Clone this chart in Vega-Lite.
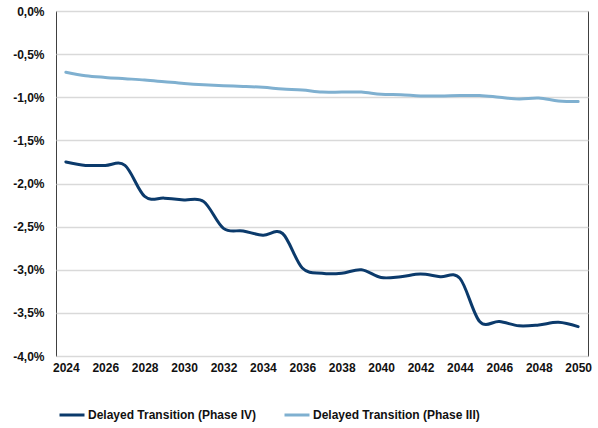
{
  "$schema": "https://vega.github.io/schema/vega-lite/v6.json",
  "width": 532,
  "height": 345,
  "autosize": "none",
  "padding": {"left": 56, "top": 11, "right": 10, "bottom": 72},
  "background": "white",
  "config": {
    "locale": {"number": {"decimal": ",", "thousands": ".", "grouping": [3], "currency": ["", " €"], "minus": "-"}},
    "view": {"stroke": "#404040", "strokeWidth": 1},
    "font": "Liberation Sans",
    "axis": {"labelFont": "Liberation Sans", "labelFontWeight": "bold", "labelFontSize": 12, "labelColor": "#111111", "ticks": false, "domain": false, "title": null},
    "legend": {"labelFont": "Liberation Sans", "labelFontWeight": "bold", "labelFontSize": 12, "labelColor": "#111111", "labelLimit": 0}
  },
  "data": {
    "values": [
      {"year": 2024, "series": "Delayed Transition (Phase IV)", "value": -0.0175},
      {"year": 2025, "series": "Delayed Transition (Phase IV)", "value": -0.0179},
      {"year": 2026, "series": "Delayed Transition (Phase IV)", "value": -0.0179},
      {"year": 2027, "series": "Delayed Transition (Phase IV)", "value": -0.0179},
      {"year": 2028, "series": "Delayed Transition (Phase IV)", "value": -0.0215},
      {"year": 2029, "series": "Delayed Transition (Phase IV)", "value": -0.0217},
      {"year": 2030, "series": "Delayed Transition (Phase IV)", "value": -0.0219},
      {"year": 2031, "series": "Delayed Transition (Phase IV)", "value": -0.0221},
      {"year": 2032, "series": "Delayed Transition (Phase IV)", "value": -0.0252},
      {"year": 2033, "series": "Delayed Transition (Phase IV)", "value": -0.0255},
      {"year": 2034, "series": "Delayed Transition (Phase IV)", "value": -0.0260},
      {"year": 2035, "series": "Delayed Transition (Phase IV)", "value": -0.0258},
      {"year": 2036, "series": "Delayed Transition (Phase IV)", "value": -0.0298},
      {"year": 2037, "series": "Delayed Transition (Phase IV)", "value": -0.0304},
      {"year": 2038, "series": "Delayed Transition (Phase IV)", "value": -0.0304},
      {"year": 2039, "series": "Delayed Transition (Phase IV)", "value": -0.0300},
      {"year": 2040, "series": "Delayed Transition (Phase IV)", "value": -0.0309},
      {"year": 2041, "series": "Delayed Transition (Phase IV)", "value": -0.0308},
      {"year": 2042, "series": "Delayed Transition (Phase IV)", "value": -0.0305},
      {"year": 2043, "series": "Delayed Transition (Phase IV)", "value": -0.0308},
      {"year": 2044, "series": "Delayed Transition (Phase IV)", "value": -0.0310},
      {"year": 2045, "series": "Delayed Transition (Phase IV)", "value": -0.0360},
      {"year": 2046, "series": "Delayed Transition (Phase IV)", "value": -0.0360},
      {"year": 2047, "series": "Delayed Transition (Phase IV)", "value": -0.0365},
      {"year": 2048, "series": "Delayed Transition (Phase IV)", "value": -0.0364},
      {"year": 2049, "series": "Delayed Transition (Phase IV)", "value": -0.0361},
      {"year": 2050, "series": "Delayed Transition (Phase IV)", "value": -0.0366},
      {"year": 2024, "series": "Delayed Transition (Phase III)", "value": -0.0071},
      {"year": 2025, "series": "Delayed Transition (Phase III)", "value": -0.0075},
      {"year": 2026, "series": "Delayed Transition (Phase III)", "value": -0.0077},
      {"year": 2027, "series": "Delayed Transition (Phase III)", "value": -0.00785},
      {"year": 2028, "series": "Delayed Transition (Phase III)", "value": -0.0080},
      {"year": 2029, "series": "Delayed Transition (Phase III)", "value": -0.0082},
      {"year": 2030, "series": "Delayed Transition (Phase III)", "value": -0.0084},
      {"year": 2031, "series": "Delayed Transition (Phase III)", "value": -0.00855},
      {"year": 2032, "series": "Delayed Transition (Phase III)", "value": -0.00866},
      {"year": 2033, "series": "Delayed Transition (Phase III)", "value": -0.00874},
      {"year": 2034, "series": "Delayed Transition (Phase III)", "value": -0.00885},
      {"year": 2035, "series": "Delayed Transition (Phase III)", "value": -0.00904},
      {"year": 2036, "series": "Delayed Transition (Phase III)", "value": -0.00916},
      {"year": 2037, "series": "Delayed Transition (Phase III)", "value": -0.0094},
      {"year": 2038, "series": "Delayed Transition (Phase III)", "value": -0.0094},
      {"year": 2039, "series": "Delayed Transition (Phase III)", "value": -0.0094},
      {"year": 2040, "series": "Delayed Transition (Phase III)", "value": -0.00966},
      {"year": 2041, "series": "Delayed Transition (Phase III)", "value": -0.0097},
      {"year": 2042, "series": "Delayed Transition (Phase III)", "value": -0.00985},
      {"year": 2043, "series": "Delayed Transition (Phase III)", "value": -0.00985},
      {"year": 2044, "series": "Delayed Transition (Phase III)", "value": -0.0098},
      {"year": 2045, "series": "Delayed Transition (Phase III)", "value": -0.0098},
      {"year": 2046, "series": "Delayed Transition (Phase III)", "value": -0.0100},
      {"year": 2047, "series": "Delayed Transition (Phase III)", "value": -0.0102},
      {"year": 2048, "series": "Delayed Transition (Phase III)", "value": -0.0101},
      {"year": 2049, "series": "Delayed Transition (Phase III)", "value": -0.01043},
      {"year": 2050, "series": "Delayed Transition (Phase III)", "value": -0.0105}
    ]
  },
  "mark": {"type": "line", "interpolate": "cardinal", "tension": 0, "strokeWidth": 3, "strokeCap": "round"},
  "encoding": {
    "x": {
      "field": "year", "type": "quantitative",
      "scale": {"domain": [2023.5, 2050.5], "nice": false, "zero": false},
      "axis": {"values": [2024, 2026, 2028, 2030, 2032, 2034, 2036, 2038, 2040, 2042, 2044, 2046, 2048, 2050], "format": "d", "grid": false, "labelPadding": 6, "labelFlush": false}
    },
    "y": {
      "field": "value", "type": "quantitative",
      "scale": {"domain": [-0.04, 0], "nice": false},
      "axis": {"values": [-0.04, -0.035, -0.03, -0.025, -0.02, -0.015, -0.01, -0.005, 0], "format": ".1%", "grid": true, "gridColor": "#d9d9d9", "gridWidth": 1.5, "labelPadding": 12}
    },
    "color": {
      "field": "series", "type": "nominal",
      "scale": {"domain": ["Delayed Transition (Phase IV)", "Delayed Transition (Phase III)"], "range": ["#0b3a6b", "#7fb0d0"]},
      "legend": {"title": null, "orient": "none", "direction": "horizontal", "legendX": 2, "legendY": 390, "symbolType": "stroke", "symbolStrokeWidth": 3, "symbolSize": 625, "labelOffset": 2, "columnPadding": 21}
    }
  }
}
